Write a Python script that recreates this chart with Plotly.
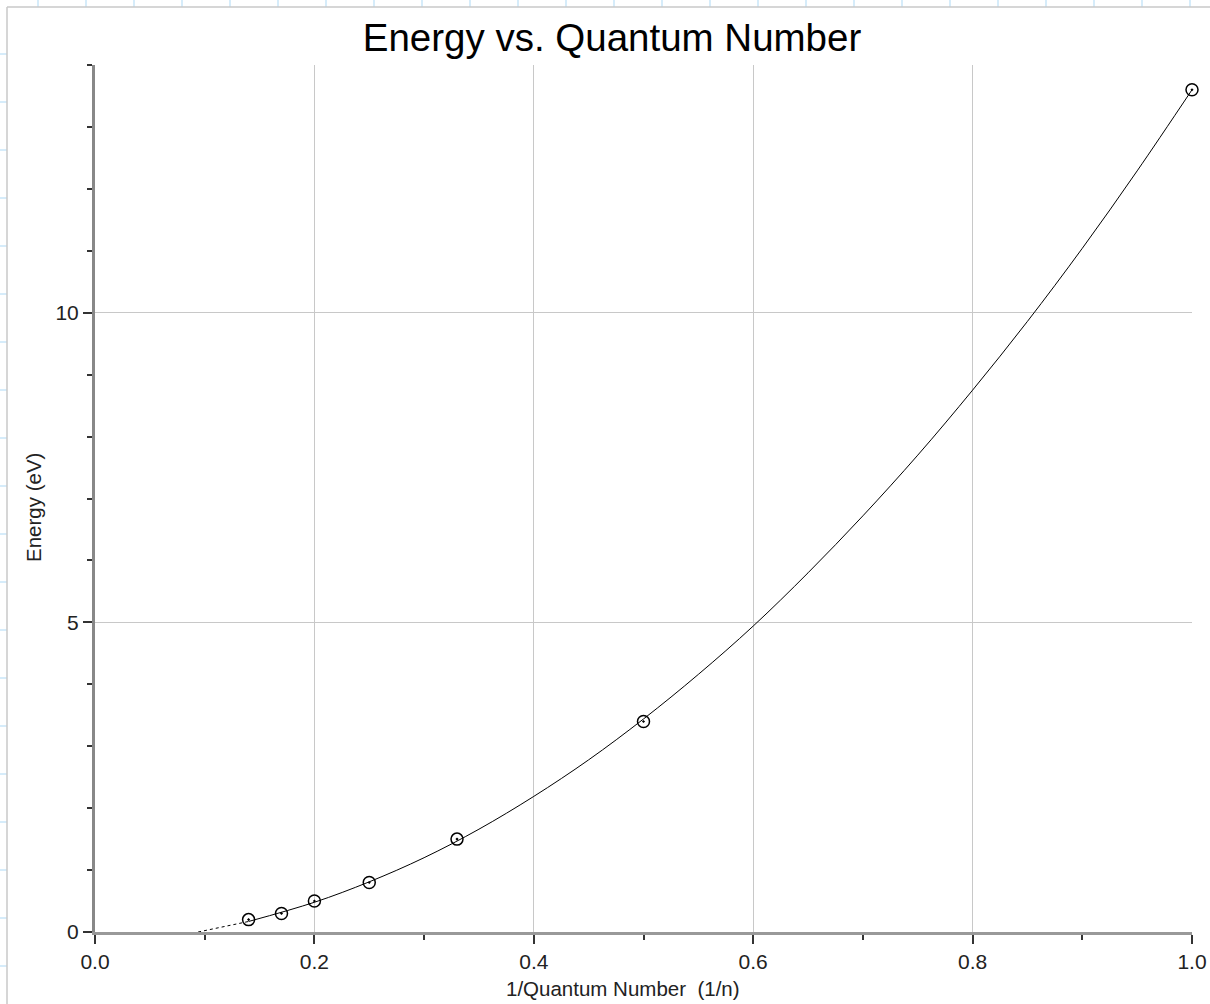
import plotly.graph_objects as go

# ---- data ----
inv_n = [1.0, 0.5, 0.33, 0.25, 0.2, 0.17, 0.14]
energy = [13.6, 3.4, 1.5, 0.8, 0.5, 0.3, 0.2]

# fitted curve (solid over data range, dotted extrapolation)
fit_x = [0.14, 0.2, 0.25, 0.3, 0.35, 0.4, 0.45, 0.5, 0.55, 0.6, 0.65, 0.7, 0.75, 0.8, 0.85, 0.9, 0.95, 1.0]
fit_y = [0.17, 0.48, 0.81, 1.20, 1.66, 2.19, 2.78, 3.44, 4.16, 4.94, 5.80, 6.72, 7.70, 8.75, 9.86, 11.04, 12.29, 13.6]
ext_x = [0.094, 0.12, 0.14]
ext_y = [0.0, 0.09, 0.17]

x_ticks = [0.0, 0.2, 0.4, 0.6, 0.8, 1.0]
x_ticklabels = ["0.0", "0.2", "0.4", "0.6", "0.8", "1.0"]
y_ticks = [0, 5, 10]

W, H = 1210, 1004
L, R, T, B = 95, 18, 65, 72
PW, PH = W - L - R, H - T - B


def px(xp):
    return (xp - L) / PW


def py(yp):
    return (H - B - yp) / PH


fig = go.Figure()
fig.add_trace(go.Scatter(x=ext_x, y=ext_y, mode="lines", line=dict(color="black", width=1, dash="dot"),
                         showlegend=False, hoverinfo="skip"))
fig.add_trace(go.Scatter(x=fit_x, y=fit_y, mode="lines", line=dict(color="black", width=1, shape="spline"),
                         showlegend=False, hoverinfo="skip"))
fig.add_trace(go.Scatter(x=inv_n, y=energy, mode="markers",
                         marker=dict(symbol="circle-open-dot", size=12, color="black", line=dict(width=1.5, color="black")),
                         showlegend=False, cliponaxis=False))

shapes = []
grid_c = "#d6ecfa"
for gx in range(38, W, 48):
    shapes.append(dict(type="line", xref="paper", yref="paper", x0=px(gx), x1=px(gx), y0=py(0), y1=py(7),
                       line=dict(color=grid_c, width=2), layer="below"))
for gy in range(54, H, 48):
    shapes.append(dict(type="line", xref="paper", yref="paper", x0=px(0), x1=px(7), y0=py(gy), y1=py(gy),
                       line=dict(color=grid_c, width=2), layer="below"))
shapes.append(dict(type="line", xref="paper", yref="paper", x0=px(7), x1=px(W), y0=py(7), y1=py(7),
                   line=dict(color="#c8c8c8", width=1.5), layer="below"))
shapes.append(dict(type="line", xref="paper", yref="paper", x0=px(7), x1=px(7), y0=py(7), y1=py(H),
                   line=dict(color="#c8c8c8", width=1.5), layer="below"))

tick_font = dict(family="Liberation Sans, Arial", size=21, color="#222")
lab_font = dict(family="Liberation Sans, Arial", size=20.5, color="#222")

annotations = [
    dict(text="1/Quantum Number  (1/n)", xref="paper", yref="paper", x=px(623), y=py(988),
         xanchor="center", yanchor="middle", showarrow=False, font=lab_font),
    dict(text="Energy (eV)", xref="paper", yref="paper", x=px(33), y=py(508), textangle=-90,
         xanchor="center", yanchor="middle", showarrow=False, font=lab_font),
]

fig.update_layout(
    width=W, height=H,
    margin=dict(l=L, r=R, t=T, b=B, autoexpand=False),
    paper_bgcolor="white", plot_bgcolor="white",
    shapes=shapes, annotations=annotations,
    title=dict(text="Energy vs. Quantum Number", x=612 / W, xanchor="center", xref="container",
               y=1 - 24 / H, yanchor="top", yref="container",
               font=dict(family="Liberation Sans, Arial", size=38.5, color="black")),
    xaxis=dict(range=[0, 1.0], tickvals=x_ticks, ticktext=x_ticklabels, ticks="outside", ticklen=9, tickwidth=2,
               tickcolor="#333", showline=True, linecolor="#999", linewidth=3, showgrid=True, gridcolor="#c8c8c8",
               gridwidth=1, zeroline=False, tickfont=tick_font, automargin=False,
               minor=dict(dtick=0.1, tick0=0, ticks="outside", ticklen=5, tickwidth=2, tickcolor="#333", showgrid=False)),
    yaxis=dict(range=[0, 14.0], tickvals=y_ticks, ticks="outside", ticklen=9, tickwidth=2, tickcolor="#333",
               showline=True, linecolor="#888", linewidth=3, showgrid=True, gridcolor="#c8c8c8", gridwidth=1,
               zeroline=False, tickfont=tick_font, automargin=False,
               minor=dict(dtick=1, tick0=0, ticks="outside", ticklen=5, tickwidth=2, tickcolor="#333", showgrid=False)),
)

fig.write_html("out.html")
